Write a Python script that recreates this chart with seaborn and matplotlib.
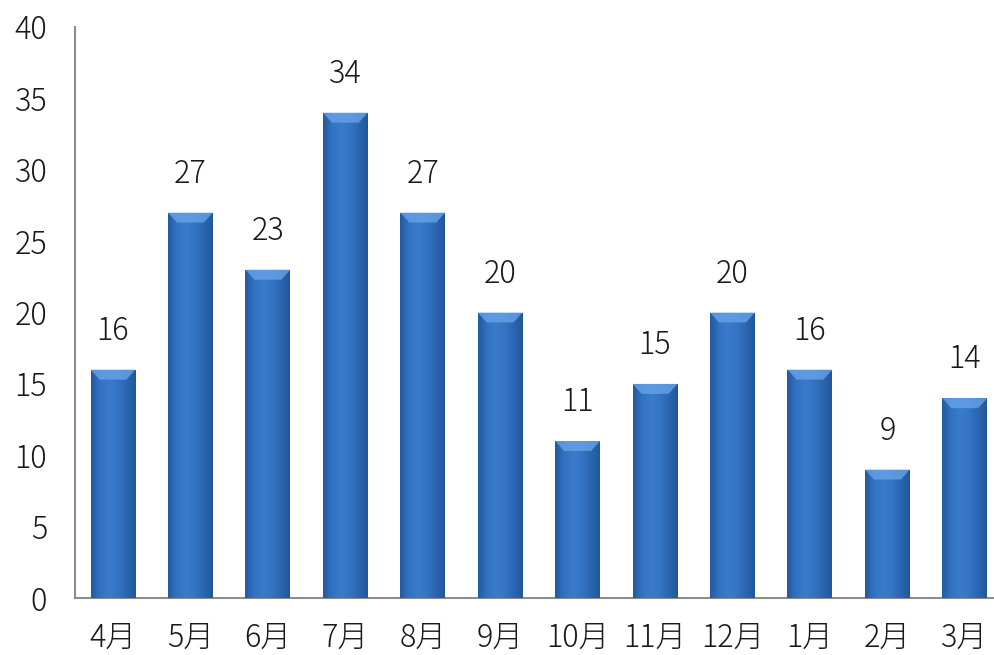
import numpy as np
import pandas as pd
import matplotlib
matplotlib.use("Agg")
import matplotlib.pyplot as plt
import seaborn as sns
from matplotlib.colors import LinearSegmentedColormap
from matplotlib.patches import Polygon

months = ["4月", "5月", "6月", "7月", "8月", "9月", "10月", "11月", "12月", "1月", "2月", "3月"]
counts = [16, 27, 23, 34, 27, 20, 11, 15, 20, 16, 9, 14]
yticks = [0, 5, 10, 15, 20, 25, 30, 35, 40]

sns.set_theme(style="white")
plt.rcParams['font.family'] = ['Noto Sans CJK JP', 'DejaVu Sans']
plt.rcParams['font.weight'] = 'light'

df = pd.DataFrame({"month": months, "count": counts})

fig = plt.figure(figsize=(9.95, 6.55), dpi=100)
ax = fig.add_axes([0.0754, 0.087, 0.9246, 0.8718])

sns.barplot(data=df, x="month", y="count", color="#3172C2", width=0.58,
            saturation=1, ax=ax, zorder=2)

ax.set_xlim(-0.49, 11.39)
ax.set_ylim(0, 40)
ax.set_yticks(yticks)
ax.set_yticklabels([str(t) for t in yticks])
ax.set_xlabel("")
ax.set_ylabel("")

# bevel-like gradient fill with a light top cap for each bar
cmap = LinearSegmentedColormap.from_list(
    "bevel", ["#24599E", "#3272C2", "#3A7BCB", "#3474C4", "#2B66B0", "#22569A"])
grad = np.linspace(0, 1, 256).reshape(1, -1)
for p in ax.patches:
    x0, y0 = p.get_x(), p.get_y()
    w, h = p.get_width(), p.get_height()
    im = ax.imshow(grad, cmap=cmap, aspect="auto",
                   extent=[x0, x0 + w, y0, y0 + h], zorder=3,
                   interpolation="bicubic")
    im.set_clip_path(p)
    cap = 0.7
    inset = w * 0.2
    top = y0 + h
    ax.add_patch(Polygon([[x0, top], [x0 + w, top], [x0 + w - inset, top - cap],
                          [x0 + inset, top - cap]], closed=True,
                         facecolor="#6AA6EA", edgecolor="none", alpha=0.75, zorder=4))
    ax.text(x0 + w / 2, top + 1.6, f"{int(round(h))}", ha="center",
            va="bottom", fontsize=22, color="#1a1a1a", zorder=5)

for s in ["top", "right"]:
    ax.spines[s].set_visible(False)
ax.spines["left"].set_color("#8c8c8c")
ax.spines["bottom"].set_color("#8c8c8c")
ax.spines["left"].set_linewidth(1.5)
ax.spines["bottom"].set_linewidth(1.5)

ax.tick_params(axis="y", length=0, pad=20, labelsize=22, colors="#1a1a1a")
ax.tick_params(axis="x", length=0, pad=17, labelsize=22, colors="#1a1a1a")

fig.savefig("out.png", dpi=100)
